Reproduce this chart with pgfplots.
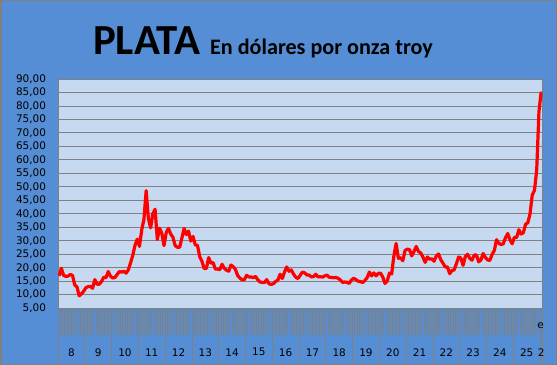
\documentclass[border=0pt]{standalone}
\usepackage{fontspec}
\setmainfont{DejaVu Sans}
\newfontfamily\carlito{Carlito}
\usepackage{pgfplots}
\pgfplotsset{compat=1.18}
\definecolor{bgblue}{RGB}{85,142,213}
\definecolor{plotbg}{RGB}{198,217,241}
\definecolor{gridgray}{RGB}{128,128,128}
\begin{document}
\begin{tikzpicture}
\fill[bgblue] (0bp,0bp) rectangle (557bp,365bp);
\begin{axis}[
  at={(58bp,56.8bp)}, anchor=south west,
  scale only axis, width=484.3bp, height=229.2bp,
  xmin=0, xmax=217, ymin=5, ymax=90,
  axis background/.style={fill=plotbg},
  axis line style={draw=gridgray, line width=0.8bp},
  /pgf/number format/assume math mode=true,
  ytick={5,10,...,90},
  ymajorgrids, grid style={draw=gridgray, line width=0.9bp},
  ytick pos=left, y tick style={draw=none},
  yticklabel style={font=\fontsize{10.5}{12}\selectfont, anchor=east, xshift=-8.5bp,
    /pgf/number format/fixed, /pgf/number format/fixed zerofill,
    /pgf/number format/precision=2, /pgf/number format/use comma},
  xtick={0,12,...,216,217},
  x tick label as interval,
  xticklabels={8,9,10,11,12,13,14,15,16,17,18,19,20,21,22,23,24,25,2},
  minor xtick={0,1,...,217},
  xtick pos=bottom, tick align=inside,
  x tick style={draw=gridgray, line width=0.8bp},
  major tick length=-55bp, minor tick length=-27bp,
  xticklabel style={font=\fontsize{10.5}{12}\selectfont, anchor=center, yshift=-44bp},
]
\addplot[red, line width=3.2bp, line join=round] coordinates {
(0.5,17.0) (1.5,19.8) (2.5,17.2) (3.5,16.8) (4.5,16.9) (5.5,17.5) (6.5,17.2) (7.5,13.6) (8.5,12.9) (9.5,9.6) (10.5,10.3) (11.5,11.3)
(12.5,12.6) (13.5,13.0) (14.5,13.1) (15.5,12.4) (16.5,15.6) (17.5,13.9) (18.5,13.9) (19.5,14.9) (20.5,16.5) (21.5,16.3) (22.5,18.6) (23.5,16.9)
(24.5,16.2) (25.5,16.4) (26.5,17.5) (27.5,18.6) (28.5,18.4) (29.5,18.7) (30.5,18.0) (31.5,19.2) (32.5,21.8) (33.5,24.6) (34.5,28.3) (35.5,30.6)
(36.5,27.9) (37.5,34.0) (38.5,37.9) (39.5,48.6) (40.5,38.3) (41.5,34.8) (42.5,40.0) (43.5,41.7) (44.5,30.5) (45.5,34.7) (46.5,32.8) (47.5,28.2)
(48.5,33.1) (49.5,34.6) (50.5,32.5) (51.5,31.3) (52.5,28.2) (53.5,27.6) (54.5,27.6) (55.5,31.0) (56.5,34.6) (57.5,32.3) (58.5,33.6) (59.5,29.9)
(60.5,31.6) (61.5,28.5) (62.5,28.3) (63.5,24.1) (64.5,22.4) (65.5,19.7) (66.5,19.8) (67.5,23.8) (68.5,21.7) (69.5,21.9) (70.5,19.5) (71.5,19.5)
(72.5,19.3) (73.5,21.3) (74.5,19.8) (75.5,19.1) (76.5,18.7) (77.5,21.0) (78.5,20.4) (79.5,19.4) (80.5,17.1) (81.5,16.2) (82.5,15.5) (83.5,15.6)
(84.5,17.2) (85.5,16.6) (86.5,16.6) (87.5,16.3) (88.5,16.8) (89.5,15.6) (90.5,14.7) (91.5,14.6) (92.5,14.5) (93.5,15.6) (94.5,14.1) (95.5,13.8)
(96.5,14.1) (97.5,14.9) (98.5,15.4) (99.5,17.6) (100.5,16.0) (101.5,18.4) (102.5,20.3) (103.5,18.7) (104.5,19.2) (105.5,17.7) (106.5,16.5) (107.5,16.0)
(108.5,17.2) (109.5,18.4) (110.5,18.1) (111.5,17.3) (112.5,17.3) (113.5,16.6) (114.5,16.7) (115.5,17.6) (116.5,16.6) (117.5,16.7) (118.5,16.5) (119.5,17.0)
(120.5,17.3) (121.5,16.5) (122.5,16.4) (123.5,16.3) (124.5,16.4) (125.5,16.1) (126.5,15.5) (127.5,14.6) (128.5,14.7) (129.5,14.6) (130.5,14.2) (131.5,15.5)
(132.5,16.1) (133.5,15.6) (134.5,15.0) (135.5,14.9) (136.5,14.5) (137.5,15.3) (138.5,16.3) (139.5,18.4) (140.5,17.0) (141.5,18.1) (142.5,17.0) (143.5,17.9)
(144.5,18.0) (145.5,16.6) (146.5,14.2) (147.5,15.0) (148.5,18.0) (149.5,17.7) (150.5,24.4) (151.5,29.0) (152.5,23.5) (153.5,23.7) (154.5,22.6) (155.5,26.4)
(156.5,26.9) (157.5,26.7) (158.5,24.4) (159.5,26.0) (160.5,27.9) (161.5,26.1) (162.5,25.5) (163.5,24.0) (164.5,22.0) (165.5,24.0) (166.5,23.2) (167.5,23.3)
(168.5,22.4) (169.5,24.4) (170.5,25.1) (171.5,23.0) (172.5,21.7) (173.5,20.3) (174.5,20.3) (175.5,17.8) (176.5,19.0) (177.5,19.2) (178.5,21.5) (179.5,24.0)
(180.5,23.6) (181.5,20.9) (182.5,24.1) (183.5,25.0) (184.5,23.5) (185.5,22.8) (186.5,24.7) (187.5,24.7) (188.5,22.2) (189.5,22.9) (190.5,25.3) (191.5,23.8)
(192.5,22.9) (193.5,22.7) (194.5,24.9) (195.5,26.4) (196.5,30.4) (197.5,29.1) (198.5,28.6) (199.5,28.9) (200.5,31.1) (201.5,32.7) (202.5,30.4) (203.5,28.9)
(204.5,31.3) (205.5,31.2) (206.5,34.1) (207.5,32.5) (208.5,33.0) (209.5,36.1) (210.5,36.7) (211.5,40.0) (212.5,47.0) (213.5,48.7) (214.5,56.4) (215.5,78.0)
(216.5,85.3)
};
\end{axis}
\node[anchor=center, inner sep=0, font=\fontsize{10.5}{12}\selectfont] at (540.7bp,39bp) {e};
\node[anchor=base west, inner sep=0] at (93bp,310bp) {\carlito\bfseries\fontsize{43}{43}\selectfont PLATA};
\node[anchor=base west, inner sep=0] at (210bp,310bp) {\carlito\bfseries\fontsize{22.2}{22.2}\selectfont En dólares por onza troy};
\draw[gridgray, line width=1.5bp] (0.75bp,0.75bp) rectangle (556.25bp,364.25bp);
\pgfresetboundingbox
\path[use as bounding box] (0bp,0bp) rectangle (557bp,365bp);
\end{tikzpicture}
\end{document}
